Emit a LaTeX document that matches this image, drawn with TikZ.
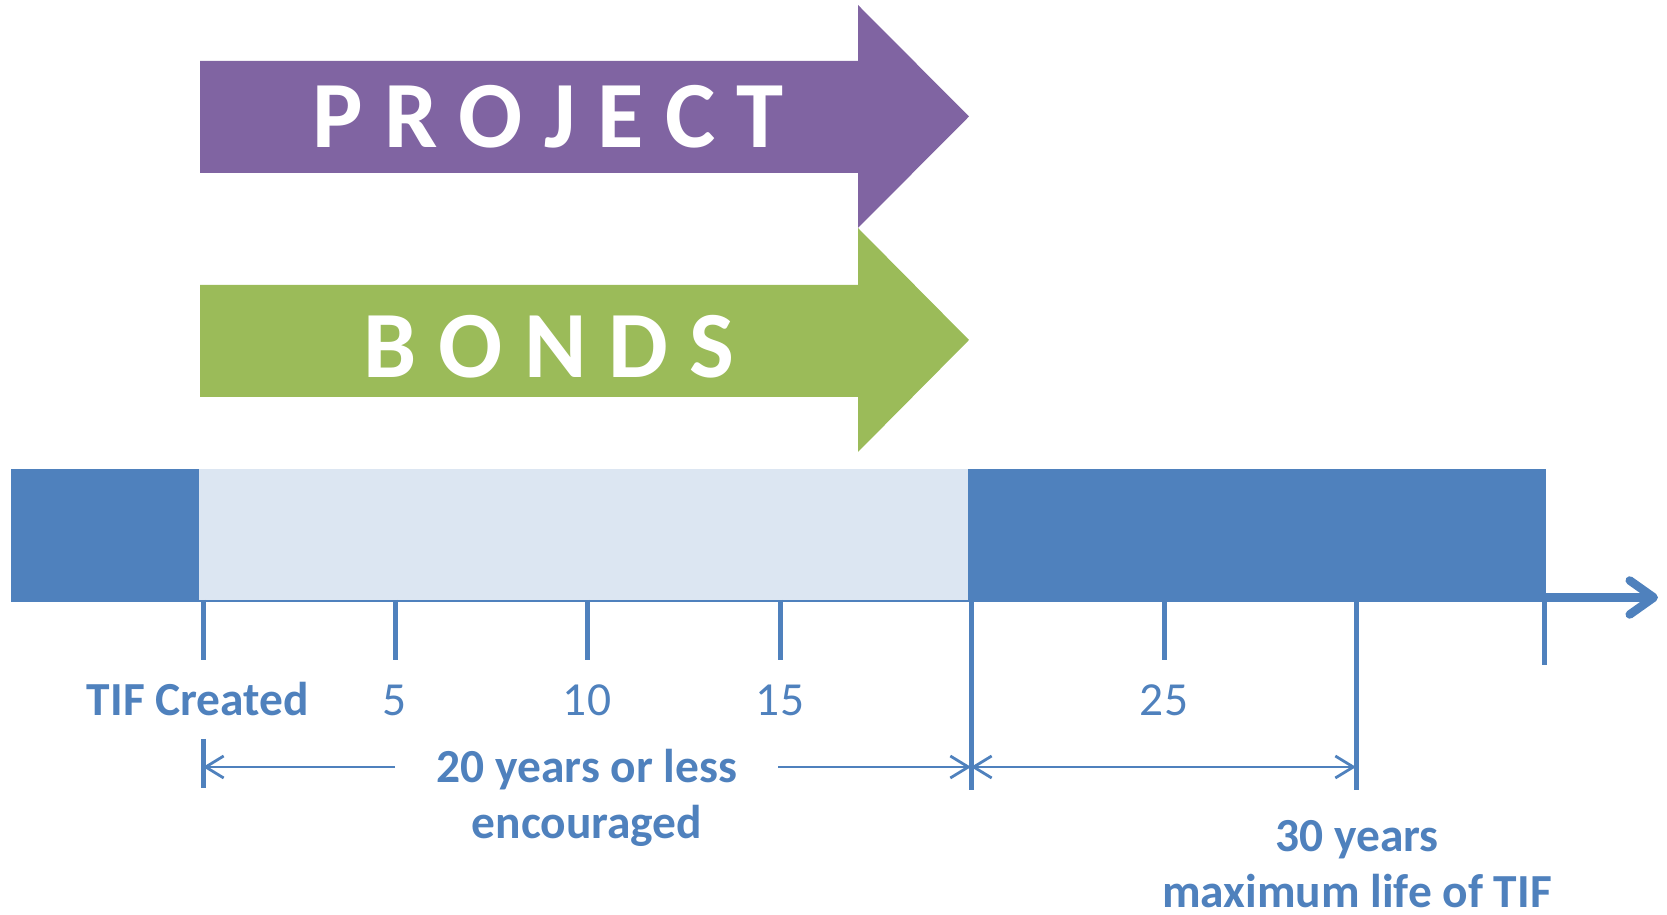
\documentclass[tikz,border=0pt]{standalone}
\usepackage{fontspec}
\setmainfont{Carlito}
\usepackage{tikz}
\usetikzlibrary{positioning}
\usetikzlibrary{arrows.meta}

\definecolor{ProjPurple}{HTML}{8064A2}
\definecolor{BondGreen}{HTML}{9BBB59}
\definecolor{TimeBlue}{HTML}{4F81BD}
\definecolor{TimeLight}{HTML}{DCE6F2}

\begin{document}
\begin{tikzpicture}[
    tick/.style={draw=TimeBlue, line width=0.05cm},
    dim/.style={draw=TimeBlue, line width=0.028cm, -{Straight Barb[length=0.18cm, width=0.22cm]}},
    lbl/.style={text=TimeBlue, font=\fontsize{13.5}{15.9}\selectfont, anchor=base},
    big/.style={text=white, font=\fontsize{27}{32}\selectfont\bfseries, anchor=base}]
    \useasboundingbox (0,0) rectangle (16.67,9.15);

    % the two arrows
    \fill[ProjPurple] (2.00,8.54) -- (8.58,8.54) -- (8.58,9.10) -- (9.69,7.985)
        -- (8.58,6.87) -- (8.58,7.42) -- (2.00,7.42) -- cycle;
    \fill[BondGreen] (2.00,6.30) -- (8.58,6.30) -- (8.58,6.87) -- (9.69,5.75)
        -- (8.58,4.63) -- (8.58,5.18) -- (2.00,5.18) -- cycle;
    \node[big] (project) at (5.48,7.67) {P R O J E C T};
    \node[big] (bonds) at (5.49,5.37) {B O N D S};

    % time line
    \coordinate (start) at (0.11,3.175);
    \coordinate (end) at (16.58,3.175);
    \draw[TimeBlue, line width=0.085cm, -{Straight Barb[round, length=0.24cm, width=0.34cm]}] (start) -- (end);
    \fill[TimeBlue] (0.11,3.15) rectangle (1.99,4.46);
    \fill[TimeLight] (1.99,3.15) rectangle (9.68,4.46);
    \fill[TimeBlue] (9.68,3.15) rectangle (15.46,4.46);

    \coordinate (t0) at (2.03,3.15);
    \coordinate (t1) at (3.95,3.15);
    \coordinate (t2) at (5.87,3.15);
    \coordinate (t3) at (7.80,3.15);
    \coordinate (t4) at (9.71,3.15);
    \coordinate (t5) at (11.64,3.15);
    \coordinate (t6) at (13.56,3.15);
    \coordinate (t7) at (15.44,3.15);

    \draw[tick] (t0) -- ++(0,-0.60);
    \draw[tick] (t1) -- ++(0,-0.60);
    \draw[tick] (t2) -- ++(0,-0.60);
    \draw[tick] (t3) -- ++(0,-0.60);
    \draw[tick] (t4) -- ++(0,-1.90);
    \draw[tick] (t5) -- ++(0,-0.60);
    \draw[tick] (t6) -- ++(0,-1.90);
    \draw[tick] (t7) -- ++(0,-0.65);
    \draw[tick] (2.03,1.76) -- (2.03,1.27);

    \node[lbl, font=\fontsize{13.5}{15.9}\selectfont\bfseries] (created) at (1.98,1.99) {TIF Created};
    \node[lbl] (y5) at (3.95,1.99) {5};
    \node[lbl] (y10) at (5.87,1.99) {10};
    \node[lbl] (y15) at (7.80,1.99) {15};
    \node[lbl] (y25) at (11.64,1.99) {25};

    % spans
    \coordinate (d0) at (2.03,1.48);
    \coordinate (d20) at (9.71,1.48);
    \coordinate (d30) at (13.56,1.48);
    \coordinate (gapL) at (3.95,1.48);
    \coordinate (gapR) at (7.78,1.48);
    \draw[dim] (gapL) -- (d0);
    \draw[dim] (gapR) -- (d20);
    \draw[dim, {Straight Barb[length=0.18cm, width=0.22cm]}-{Straight Barb[length=0.18cm, width=0.22cm]}] (d20) -- (d30);

    \node[lbl, font=\fontsize{13.5}{15.9}\selectfont\bfseries] (less) at (5.87,1.32) {20 years or less};
    \node[lbl, font=\fontsize{13.5}{15.9}\selectfont\bfseries] (encouraged) at (5.87,0.76) {encouraged};
    \node[lbl, font=\fontsize{13.5}{15.9}\selectfont\bfseries] (thirty) at (13.57,0.63) {30 years};
    \node[lbl, font=\fontsize{13.5}{15.9}\selectfont\bfseries] (maxlife) at (13.57,0.07) {maximum life of TIF};
\end{tikzpicture}
\end{document}
